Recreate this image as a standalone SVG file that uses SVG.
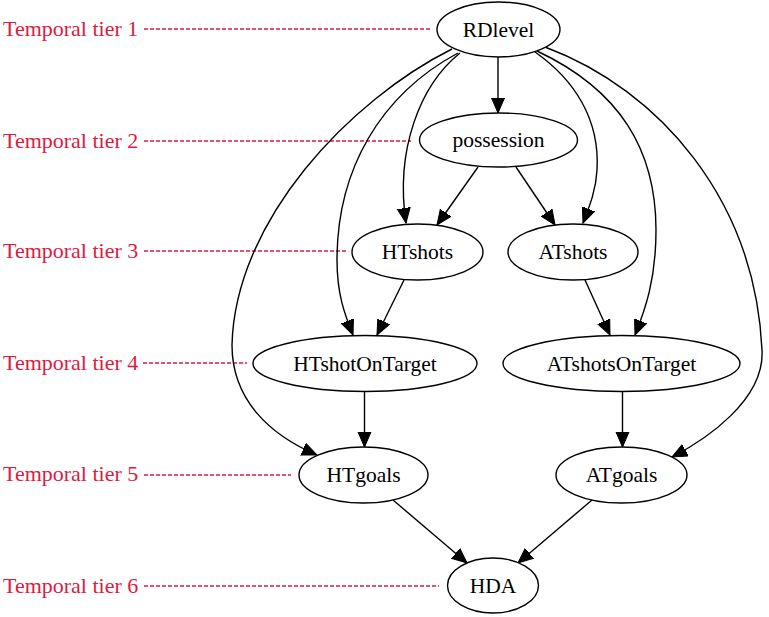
<svg xmlns="http://www.w3.org/2000/svg" width="769" height="617" viewBox="0 0 769 617">
<defs>
<style>
.node ellipse{fill:#fff;stroke:#000;stroke-width:1.4}
.node text{font-size:21.5px;fill:#000;text-anchor:middle}
.tier text{font-size:22px;fill:#e0193f}
.tier line{stroke:#e0193f;stroke-width:1.4;stroke-dasharray:4 2}
.edges path{fill:none;stroke:#000;stroke-width:1.4;marker-end:url(#arr)}
</style>
<marker id="arr" markerUnits="userSpaceOnUse" markerWidth="17" markerHeight="15" refX="15" refY="7" orient="auto">
<path d="M0,0.5 L15,7 L0,13.5 z" fill="#000" stroke="#000" stroke-width="1"/>
</marker>
</defs>
<rect width="769" height="617" fill="#fff"/>
<g id="tiers" class="tier" font-family="Liberation Serif, Times New Roman, Times, serif">
<line x1="144" y1="29" x2="430" y2="29"/>
<text x="3" y="35.5">Temporal tier 1</text>
<line x1="144" y1="141" x2="411" y2="141"/>
<text x="3" y="147.5">Temporal tier 2</text>
<line x1="144" y1="251" x2="347" y2="251"/>
<text x="3" y="257.5">Temporal tier 3</text>
<line x1="143" y1="363" x2="247" y2="363"/>
<text x="3" y="369.5">Temporal tier 4</text>
<line x1="144" y1="475" x2="291" y2="475"/>
<text x="3" y="481">Temporal tier 5</text>
<line x1="144" y1="586" x2="439" y2="586"/>
<text x="3" y="592.5">Temporal tier 6</text>
</g>
<g id="connectors" class="edges">
<path d="M498,57 L498,113"/>
<path d="M460,53 C420,85 395,150 406,223"/>
<path d="M458,53 C380,95 337,170 337,260 C337,295 345,315 353,335"/>
<path d="M452,49 C350,100 235,220 232,345 C232,400 270,435 317,455"/>
<path d="M535,52 C575,80 600,120 597,170 C596,190 590,205 583,223"/>
<path d="M537,51 C620,90 656,150 656,230 C656,280 645,310 635,335"/>
<path d="M545,47 C660,90 755,200 762,350 C765,400 705,440 672,457"/>
<path d="M478,167 L437,225"/>
<path d="M516,167 L555,225"/>
<path d="M404,280 L377,335"/>
<path d="M585,280 L610,335"/>
<path d="M364.5,392 L364.5,447"/>
<path d="M622.5,392 L622.5,447"/>
<path d="M393,500 L467,563"/>
<path d="M592,500 L518,563"/>
</g>
<g font-family="Liberation Serif, Times New Roman, Times, serif">
<g id="RDlevel" class="node"><ellipse cx="498.5" cy="29.5" rx="61.5" ry="27.5"/><text x="498.5" y="36.5">RDlevel</text></g>
<g id="possession" class="node"><ellipse cx="498.5" cy="140" rx="79" ry="27"/><text x="498.5" y="147">possession</text></g>
<g id="HTshots" class="node"><ellipse cx="417.5" cy="252" rx="65.5" ry="28"/><text x="417.5" y="259">HTshots</text></g>
<g id="ATshots" class="node"><ellipse cx="573" cy="252" rx="65" ry="28"/><text x="573" y="259">ATshots</text></g>
<g id="HTshotOnTarget" class="node"><ellipse cx="365" cy="363.5" rx="112" ry="28"/><text x="365" y="370.5">HTshotOnTarget</text></g>
<g id="ATshotsOnTarget" class="node"><ellipse cx="621.5" cy="363.5" rx="118.5" ry="28"/><text x="621.5" y="370.5">ATshotsOnTarget</text></g>
<g id="HTgoals" class="node"><ellipse cx="363.5" cy="475" rx="64.5" ry="28"/><text x="363.5" y="482">HTgoals</text></g>
<g id="ATgoals" class="node"><ellipse cx="621.5" cy="475" rx="65.5" ry="28"/><text x="621.5" y="482">ATgoals</text></g>
<g id="HDA" class="node"><ellipse cx="493" cy="585.5" rx="45.5" ry="27.5"/><text x="493" y="592.5">HDA</text></g>
</g>
</svg>
